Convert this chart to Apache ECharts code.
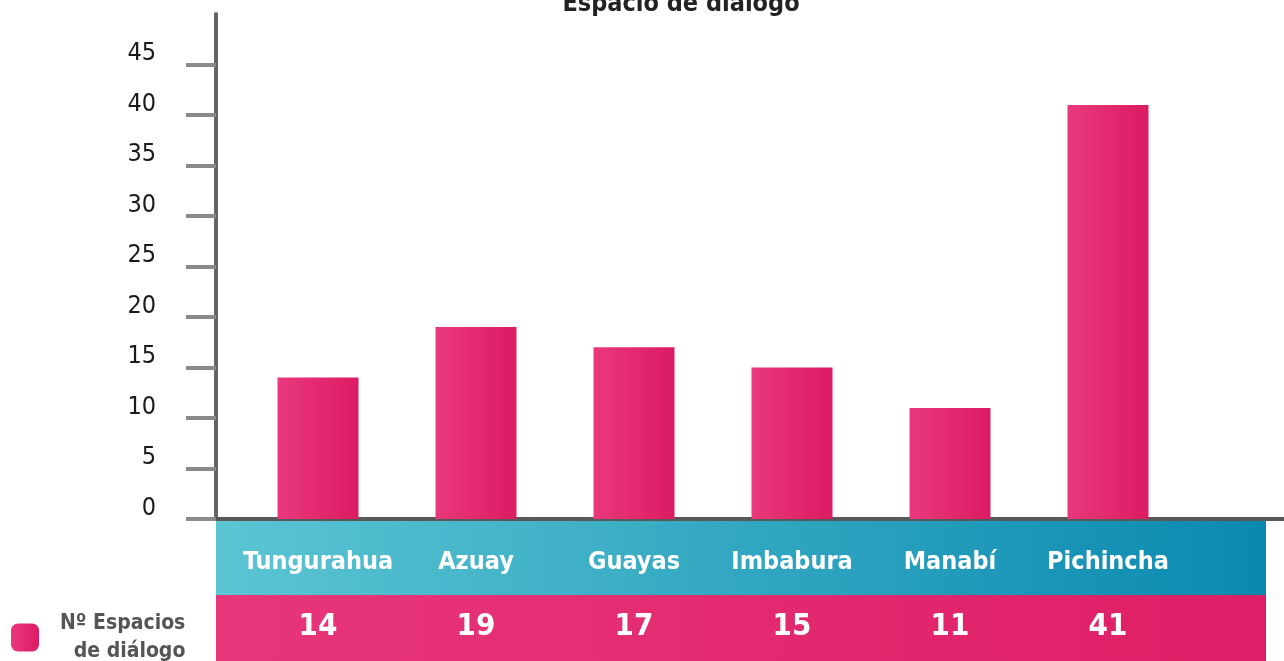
<!DOCTYPE html>
<html>
<head>
<meta charset="utf-8">
<script src="https://cdn.jsdelivr.net/npm/echarts@6/dist/echarts.min.js"></script>
<style>
  * { margin: 0; padding: 0; }
  html, body { width: 1284px; height: 661px; background: #fff; overflow: hidden; }
  #chart { width: 1284px; height: 661px; }
</style>
</head>
<body>
<div id="chart"></div>
<script>
// datos del grafico
var provincias = ['Tungurahua', 'Azuay', 'Guayas', 'Imbabura', 'Manabí', 'Pichincha'];
var espacios = [14, 19, 17, 15, 11, 41];
var yTicks = [0, 5, 10, 15, 20, 25, 30, 35, 40, 45];
var serieNombre = 'Nº Espacios de diálogo';

var FONT = '"DejaVu Sans Condensed", "Liberation Sans Narrow", sans-serif';

var chart = echarts.init(document.getElementById('chart'));

var rosa = new echarts.graphic.LinearGradient(0, 0, 1, 0, [
    { offset: 0, color: '#e9387d' },
    { offset: 1, color: '#dc1b63' }
]);

chart.setOption({
    animation: false,
    title: {
        text: 'Espacio de diálogo',
        left: 676,
        textAlign: 'center',
        top: -13,
        textStyle: { fontFamily: FONT, fontSize: 25, fontWeight: 'bold', color: '#222' }
    },
    legend: {
        left: 6,
        top: 608,
        icon: 'roundRect',
        itemWidth: 28,
        itemHeight: 28,
        data: [serieNombre],
        formatter: function () {
            return '{a|Nº Espacios}\n{b|de diálogo}';
        },
        textStyle: {
            padding: [0, 0, 0, 16],
            rich: {
                a: { fontFamily: FONT, fontSize: 21, fontWeight: 'bold', color: '#555', lineHeight: 28, align: 'right' },
                b: { fontFamily: FONT, fontSize: 21, fontWeight: 'bold', color: '#555', lineHeight: 28, align: 'right' }
            }
        }
    },
    // franjas de la tabla inferior
    graphic: [
        {
            type: 'rect', z: -1,
            shape: { x: 216, y: 521, width: 1050, height: 74 },
            style: {
                fill: new echarts.graphic.LinearGradient(0, 0, 1, 0, [
                    { offset: 0, color: '#5bc5d3' },
                    { offset: 1, color: '#0a89b0' }
                ])
            }
        },
        {
            type: 'rect', z: -1,
            shape: { x: 216, y: 595, width: 1050, height: 66 },
            style: {
                fill: new echarts.graphic.LinearGradient(0, 0, 1, 0, [
                    { offset: 0, color: '#e8367a' },
                    { offset: 1, color: '#de1e66' }
                ])
            }
        }
    ],
    grid: [
        { left: 216, right: 0, top: 14, bottom: 142 },
        { left: 239, right: 97, top: 14, bottom: 142 }
    ],
    xAxis: [
        {
            gridIndex: 0,
            type: 'category',
            data: provincias,
            axisLine: { lineStyle: { color: '#585858', width: 4 } },
            axisTick: { show: false },
            axisLabel: { show: false }
        },
        {
            gridIndex: 1,
            type: 'category',
            data: provincias,
            axisLine: { show: false },
            axisTick: { show: false },
            axisLabel: {
                margin: 11,
                interval: 0,
                formatter: function (v, i) {
                    return '{a|' + v + '}\n{b|' + espacios[i] + '}';
                },
                rich: {
                    a: { fontFamily: FONT, fontSize: 25, fontWeight: 'bold', color: '#fff', lineHeight: 64 },
                    b: { fontFamily: FONT, fontSize: 31, fontWeight: 'bold', color: '#fff', lineHeight: 66 }
                }
            }
        }
    ],
    yAxis: [
        {
            gridIndex: 0,
            type: 'value',
            min: 0,
            max: 50,
            interval: 5,
            splitLine: { show: false },
            axisLine: { show: true, lineStyle: { color: '#666', width: 4 } },
            axisTick: {
                show: true,
                length: 30,
                customValues: yTicks,
                lineStyle: { color: '#8a8a8a', width: 4 }
            },
            axisLabel: {
                margin: 60,
                customValues: yTicks,
                verticalAlign: 'bottom',
                lineHeight: 22,
                fontFamily: FONT,
                fontSize: 25,
                color: '#1a1a1a'
            }
        },
        {
            gridIndex: 1,
            type: 'value',
            min: 0,
            max: 50,
            show: false
        }
    ],
    series: [
        {
            name: serieNombre,
            type: 'bar',
            xAxisIndex: 1,
            yAxisIndex: 1,
            barWidth: 81,
            data: espacios,
            itemStyle: { color: rosa }
        }
    ]
});
</script>
</body>
</html>
